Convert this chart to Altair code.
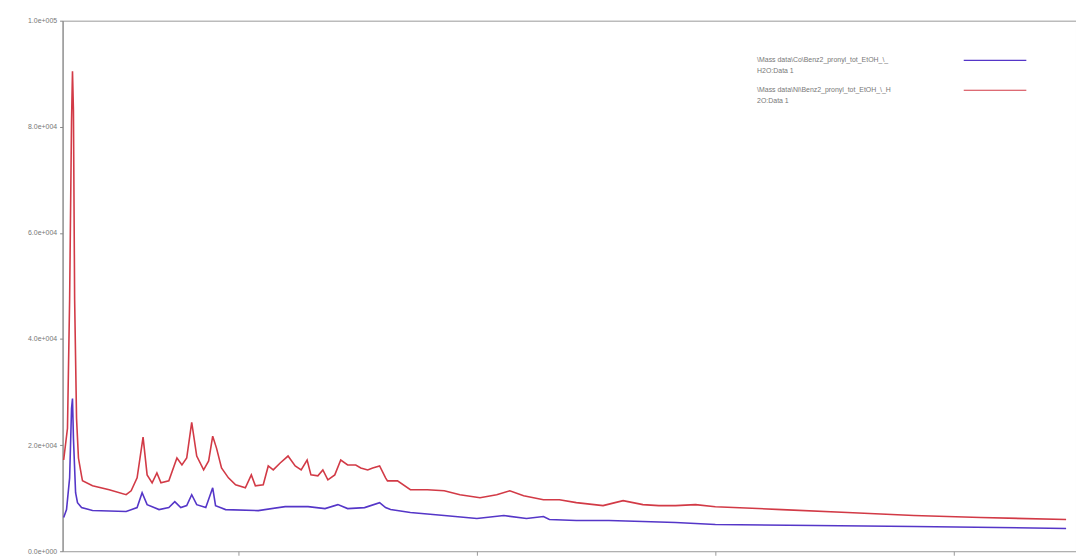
import altair as alt
import pandas as pd

# Diffraction-style scans: 2-theta (deg) vs counts
two_theta_red = [2.67, 2.83, 2.92, 3.00, 3.04, 3.08, 3.13, 3.21, 3.29, 3.42, 3.46, 3.88, 4.58,
                 5.29, 5.50, 5.75, 6.00, 6.17, 6.38, 6.58, 6.75, 7.08, 7.42, 7.63, 7.83, 8.04,
                 8.25, 8.54, 8.75, 8.92, 9.08, 9.29, 9.58, 9.88, 10.29, 10.54, 10.71, 11.04,
                 11.25, 11.46, 11.75, 12.08, 12.38, 12.63, 12.88, 13.04, 13.33, 13.54, 13.75,
                 14.04, 14.29, 14.58, 14.92, 15.13, 15.42, 15.63, 15.92, 16.17, 16.25, 16.67,
                 17.21, 17.92, 18.63, 19.29, 20.13, 20.83, 21.38, 21.96, 22.79, 23.46, 24.17,
                 25.29, 26.13, 26.96, 27.63, 28.33, 29.17, 30.00, 32.79, 35.54, 38.33, 41.13,
                 44.71]
intensity_red = [17195, 23176, 47473, 81115, 90460, 82984, 47473, 25045, 17569, 14204, 13270,
                 12335, 11588, 10653, 11401, 13831, 21494, 14391, 12896, 14765, 12896, 13270,
                 17569, 16260, 17569, 24297, 17942, 15326, 17008, 21680, 19438, 15700, 13831,
                 12522, 11962, 14391, 12335, 12522, 16073, 15326, 16634, 17942, 16073, 15326,
                 17195, 14391, 14204, 15326, 13457, 14391, 17195, 16260, 16260, 15700, 15326,
                 15700, 16073, 13831, 13270, 13270, 11588, 11588, 11401, 10653, 10093, 10653,
                 11401, 10466, 9719, 9719, 9158, 8597, 9532, 8784, 8597, 8597, 8784, 8400,
                 7850, 7289, 6728, 6355, 5981]

two_theta_blue = [2.67, 2.79, 2.92, 3.00, 3.04, 3.08, 3.17, 3.25, 3.42, 3.88, 5.29, 5.75, 5.96,
                  6.17, 6.67, 7.08, 7.33, 7.58, 7.83, 8.04, 8.25, 8.63, 8.92, 9.04, 9.46, 10.83,
                  11.96, 12.92, 13.63, 14.17, 14.58, 15.29, 15.92, 16.17, 16.38, 17.21, 18.63,
                  20.00, 21.13, 22.08, 22.79, 23.04, 24.17, 25.54, 26.96, 28.33, 30.00, 34.17,
                  38.33, 44.71]
intensity_blue = [6355, 7850, 13831, 26914, 28783, 21307, 11027, 9158, 8224, 7663, 7476, 8224,
                  11027, 8784, 7850, 8224, 9345, 8224, 8597, 10653, 8784, 8224, 11962, 8597,
                  7850, 7663, 8411, 8411, 8037, 8784, 8037, 8224, 9158, 8224, 7850, 7289, 6728,
                  6168, 6728, 6168, 6542, 5981, 5794, 5794, 5607, 5420, 5046, 4859, 4673, 4299]

series_names = ["Co scan", "Ni scan"]
series_colors = ["#5536c8", "#d23a46"]
legend_lines = [
    ["\\Mass data\\Co\\Benz2_pronyl_tot_EtOH_\\_", "H2O:Data 1"],
    ["\\Mass data\\Ni\\Benz2_pronyl_tot_EtOH_\\_H", "2O:Data 1"],
]

y_ticks = [0, 20000, 40000, 60000, 80000, 100000]
y_tick_labels = ["0.0e+000", "2.0e+004", "4.0e+004", "6.0e+004", "8.0e+004", "1.0e+005"]
x_ticks = [10, 20, 30, 40]

frames = [
    pd.DataFrame({"two_theta": two_theta_red, "counts": intensity_red, "series": series_names[1]}),
    pd.DataFrame({"two_theta": two_theta_blue, "counts": intensity_blue, "series": series_names[0]}),
]
scans = pd.concat(frames, ignore_index=True)

label_expr = " : ".join(
    f"datum.value == {v} ? '{t}'" for v, t in zip(y_ticks, y_tick_labels)
) + " : ''"

lines = alt.Chart(scans).mark_line(strokeWidth=1.6).encode(
    x=alt.X("two_theta:Q",
            scale=alt.Scale(domain=[2.625, 45.125], nice=False, zero=False),
            axis=alt.Axis(values=x_ticks, labels=False, grid=False, domain=False,
                          tickSize=4, tickColor="#999", title=None)),
    y=alt.Y("counts:Q",
            scale=alt.Scale(domain=[0, 100000], nice=False),
            axis=alt.Axis(values=y_ticks, labelExpr=label_expr, grid=False,
                          domainColor="#888", tickColor="#888", tickSize=3,
                          labelFontSize=7, labelColor="#777", labelFont="Liberation Sans",
                          labelPadding=3, title=None)),
    color=alt.Color("series:N", scale=alt.Scale(domain=series_names, range=series_colors),
                    legend=None),
    detail="series:N",
)

# Hand-placed legend in the upper right of the plot
legend_layers = []
entry_tops = [59, 89]
for lines_text, top, color in zip(legend_lines, entry_tops, series_colors):
    for i, txt in enumerate(lines_text):
        legend_layers.append(
            alt.Chart(pd.DataFrame({"label": [txt]})).mark_text(
                align="left", baseline="middle", fontSize=7, color="#777",
                font="Liberation Sans"
            ).encode(x=alt.value(699), y=alt.value(top - 19 + i * 11), text="label:N")
        )
    legend_layers.append(
        alt.Chart(pd.DataFrame({"k": [0]})).mark_rule(color=color, strokeWidth=1.2).encode(
            x=alt.value(907), x2=alt.value(970), y=alt.value(top - 19)
        )
    )

chart = alt.layer(lines, *legend_layers).properties(
    width=1020,
    height=534,
    padding={"left": 63, "top": 19, "right": 0, "bottom": 7},
    autosize=alt.AutoSizeParams(type="none"),
    background="white",
).configure_view(stroke="#999", strokeWidth=1)

chart.save("out.html", embed_options={"renderer": "svg", "actions": False})
